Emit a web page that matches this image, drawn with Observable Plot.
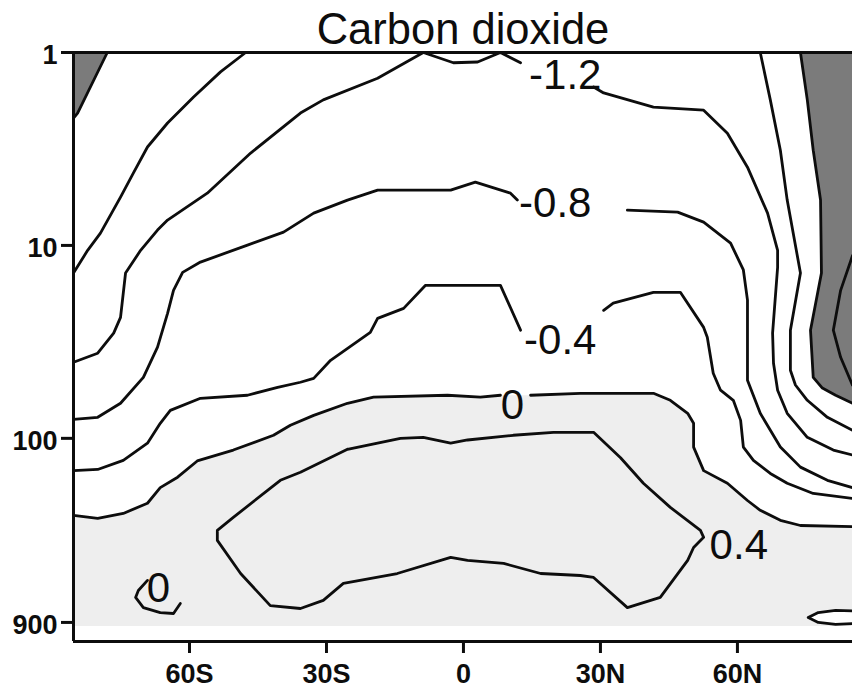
<!DOCTYPE html>
<html>
<head>
<meta charset="utf-8">
<script src="https://cdn.jsdelivr.net/npm/d3@7"></script>
<script src="https://cdn.jsdelivr.net/npm/@observablehq/plot@0.6"></script>
<style>
  html, body { margin: 0; padding: 0; background: #fff; }
  #chart { width: 852px; height: 692px; }
</style>
</head>
<body>
<div id="chart"></div>
<script>
// Zonal-mean response to carbon dioxide, latitude × pressure (hPa, log scale)
const title = "Carbon dioxide";
const latTicks = [-60, -30, 0, 30, 60];
const latTickLabels = ["60S", "30S", "0", "30N", "60N"];
const pressureTicks = [1, 10, 100, 900];
const pressureTickLabels = ["1", "10", "100", "900"];
const latExtent = [-85.4, 85.2];
const pressureExtent = [1, 1130];   // frame of the panel
const groundPressure = 940;         // lowest level of the field

// Contour polylines as [latitude, pressure] pairs; "a"/"b" are the pieces
// either side of an in-line label.
const cM24East = [[85.2,11.3],[82.6,17.1],[81.0,27.5],[82.6,38.0],[85.2,53.0]];
const cM20West = [[-78.0,1],[-84.5,2.06],[-85.4,2.19]];
const cM20East = [[73.8,1],[75.3,1.76],[76.6,3.21],[78.2,5.82],[78.4,13.9],[76.0,27.5],[76.6,48.3],[78.6,54.9],[81.5,59.8],[85.2,65.8]];
const cM16West = [[-47.7,1],[-53.2,1.26],[-59.1,1.70],[-64.8,2.32],[-69.2,3.09],[-72.3,4.22],[-75.1,5.62],[-79.5,8.64],[-82.3,10.6],[-85.4,13.9]];
const cM16East = [[65.0,1],[67.2,1.76],[69.4,3.21],[70.9,5.82],[73.8,13.9],[71.6,27.5],[71.6,44.4],[72.7,52.9],[75.3,63.5],[79.7,77.8],[85.2,90.8]];
const cM12a = [[-85.4,40.3],[-80.1,36.2],[-76.6,28.5],[-75.1,23.6],[-74.0,13.9],[-70.7,10.6],[-67.0,8.33],[-64.8,7.39],[-56.1,5.36],[-46.6,3.32],[-35.7,2.06],[-30.7,1.76],[-18.8,1.36],[-8.8,1.0],[-2.2,1.13],[3.1,1.12],[8.1,1.0],[12.5,1.13]];
const cM12b = [[28.5,1.51],[30.7,1.62],[41.6,1.92],[52.6,1.99],[57.8,2.62],[62.2,3.93],[66.6,6.80],[68.8,10.6],[68.8,13.0],[67.7,28.5],[67.9,40.8],[68.8,56.3],[70.9,74.2],[75.3,98.8],[81.0,115],[85.2,122]];
const cM08a = [[-85.4,79.7],[-80.1,77.8],[-75.1,65.8],[-70.1,48.3],[-67.0,33.7],[-64.8,22.5],[-63.5,17.1],[-61.5,13.8],[-57.6,12.2],[-47.3,9.97],[-39.4,8.53],[-32.8,6.80],[-25.4,5.82],[-18.8,5.17],[-2.8,5.17],[2.6,4.70],[10.3,5.36],[11.8,5.82]];
const cM08b = [[35.9,6.56],[46.9,6.72],[52.6,7.57],[58.5,9.73],[61.3,13.4],[62.2,19.2],[62.2,50.0],[65.0,74.2],[69.4,111],[73.8,141],[79.7,165],[85.2,180]];
const cM04a = [[-85.4,147],[-80.1,145],[-74.5,130],[-69.2,106],[-66.4,83.6],[-64.2,71.6],[-57.6,62.0],[-47.3,59.8],[-40.7,54.4],[-35.7,51.2],[-32.8,48.9],[-29.1,39.4],[-20.4,28.2],[-18.8,23.9],[-13.1,21.2],[-8.3,16.1],[8.1,16.1],[12.5,27.5]];
const cM04b = [[30.7,21.7],[32.8,19.9],[41.6,17.5],[47.5,17.5],[52.6,26.6],[53.4,29.9],[54.7,46.0],[56.3,56.3],[59.1,63.5],[60.7,80.7],[61.3,111],[63.5,130],[67.2,152],[70.9,171],[76.6,193],[85.2,205]];
const c00a = [[-85.4,251],[-80.1,260],[-74.5,245],[-69.2,217],[-66.4,180],[-62.6,159],[-58.3,131],[-50.4,115],[-41.6,96.4],[-37.9,85.6],[-32.8,76.0],[-25.4,65.8],[-19.7,61.2],[-3.5,59.8],[3.7,61.2],[8.1,59.8]];
const c00b = [[14.7,59.8],[25.6,58.4],[41.6,58.4],[45.3,63.5],[49.1,74.2],[50.4,83.6],[50.4,111],[52.6,147],[57.8,171],[62.2,210],[65.0,236],[69.4,266],[73.8,283],[85.2,287]];
const c00Small = [[-69.2,545],[-71.2,615],[-71.8,668],[-70.1,754],[-66.4,800],[-63.5,809],[-62.0,718]];
const c00Cell = [[85.2,785],[81.5,780],[77.7,800],[75.5,849],[77.7,900],[81.5,920],[85.2,912]];
const cP04Loop = [[-25.4,114],[-35.7,150],[-40.1,165],[-42.9,186],[-50.4,257],[-53.9,300],[-53.9,338],[-48.8,502],[-42.3,736],[-35.7,762],[-30.7,692],[-26.3,565],[-14.5,502],[-2.8,414],[0.9,429],[8.8,445],[16.9,502],[25.6,514],[28.5,526],[35.9,754],[43.1,668],[49.1,429],[50.4,368],[52.6,326],[51.9,300],[45.3,228],[39.4,171],[34.4,126],[28.5,93.1],[19.7,93.1],[10.9,96.4],[0.9,102],[-2.8,106],[-8.8,98.8],[-13.8,100],[-25.4,114]];

// In-line contour labels
const labelText = ["-1.2", "-0.8", "-0.4", "0", "0"];
const labelLat  = [22.3, 20.1, 21.2, 10.7, -66.8];
const labelP    = [1.31, 6.05, 31.0, 67.5, 600];
const boxedLabelText = ["0.4"];
const boxedLabelLat  = [60.3];
const boxedLabelP    = [358];

const segments = [
  {level: -2.4, pts: cM24East}, {level: -2.0, pts: cM20West}, {level: -2.0, pts: cM20East},
  {level: -1.6, pts: cM16West}, {level: -1.6, pts: cM16East},
  {level: -1.2, pts: cM12a}, {level: -1.2, pts: cM12b},
  {level: -0.8, pts: cM08a}, {level: -0.8, pts: cM08b},
  {level: -0.4, pts: cM04a}, {level: -0.4, pts: cM04b},
  {level: 0, pts: c00a}, {level: 0, pts: c00b}, {level: 0, pts: c00Small}, {level: 0, pts: c00Cell},
  {level: 0.4, pts: cP04Loop}
];
const lineRows = segments.flatMap((s, k) => s.pts.map(([lat, p]) => ({seg: k, level: s.level, lat, p})));
const toRows = pts => pts.map(([lat, p]) => ({lat, p}));

// Shaded areas: positive values (light) and values below -2.0 (dark)
const positiveArea = toRows([...c00a, ...c00b, [latExtent[1], groundPressure], [latExtent[0], groundPressure]]);
const lowWest = toRows([...cM20West, [latExtent[0], 1]]);
const lowEast = toRows([...cM20East, [latExtent[1], 1]]);
const negativeCell = toRows(c00Cell);

const labels = labelText.map((t, i) => ({t, lat: labelLat[i], p: labelP[i]}));
const boxedLabels = boxedLabelText.map((t, i) => ({t, lat: boxedLabelLat[i], p: boxedLabelP[i]}));
const yTickRows = pressureTicks.map((p, i) => ({p, t: pressureTickLabels[i]}));

const font = "'Liberation Sans', Arial, Helvetica, sans-serif";
const ink = "#0d0d0d";

const chart = Plot.plot({
  width: 852,
  height: 692,
  marginTop: 52,
  marginBottom: 51,
  marginLeft: 73,
  marginRight: 0,
  style: {fontFamily: font, fontSize: "27px", background: "#fff", overflow: "visible"},
  x: {domain: latExtent, label: null},
  y: {type: "log", domain: pressureExtent, reverse: true, label: null},
  marks: [
    Plot.line(positiveArea, {x: "lat", y: "p", fill: "#eeeeee", stroke: "none"}),
    Plot.line(lowWest, {x: "lat", y: "p", fill: "#7b7b7b", stroke: "none"}),
    Plot.line(lowEast, {x: "lat", y: "p", fill: "#7b7b7b", stroke: "none"}),
    Plot.line(negativeCell, {x: "lat", y: "p", fill: "#ffffff", stroke: "none"}),
    Plot.line(lineRows, {x: "lat", y: "p", z: "seg", stroke: ink, strokeWidth: 2.8, strokeLinejoin: "round", curve: "linear"}),
    Plot.ruleY([pressureExtent[0]], {stroke: ink, strokeWidth: 3}),
    Plot.ruleY([pressureExtent[1]], {stroke: ink, strokeWidth: 3}),
    Plot.ruleX([latExtent[0]], {stroke: ink, strokeWidth: 3}),
    // pressure axis: tick marks from the axis mark, labels from a text mark
    Plot.axisY({ticks: pressureTicks, tickFormat: () => "", tickSize: 12, strokeWidth: 3, stroke: ink}),
    Plot.text(yTickRows, {y: "p", text: "t", frameAnchor: "left", textAnchor: "end", dx: -16, dy: 3,
      fontSize: 27, fontWeight: "bold", fill: ink}),
    Plot.axisX({ticks: latTicks, tickFormat: d => latTickLabels[latTicks.indexOf(d)], tickSize: 12, tickPadding: 10,
      fontSize: 27, fontWeight: "bold", strokeWidth: 3, fill: ink, stroke: ink}),
    Plot.text(labels, {x: "lat", y: "p", text: "t", fontSize: 42, fill: ink, lineAnchor: "middle"}),
    Plot.text(boxedLabels, {x: "lat", y: "p", text: "t", fontSize: 42, fill: ink, lineAnchor: "middle", ariaLabel: "boxed-label"}),
    Plot.text([title], {frameAnchor: "top", lineAnchor: "bottom", dy: -9, fontSize: 43.5, fill: ink})
  ]
});

document.getElementById("chart").append(chart);

// White boxes behind labels that sit on shading, sized from the rendered text
const svgns = "http://www.w3.org/2000/svg";
chart.querySelectorAll('g[aria-label="boxed-label"] text').forEach(t => {
  const b = t.getBBox();
  const r = document.createElementNS(svgns, "rect");
  r.setAttribute("x", b.x - 2);
  r.setAttribute("y", b.y + 3);
  r.setAttribute("width", b.width + 14);
  r.setAttribute("height", b.height - 6);
  r.setAttribute("fill", "#fff");
  if (t.getAttribute("transform")) r.setAttribute("transform", t.getAttribute("transform"));
  t.parentNode.insertBefore(r, t);
});
</script>
</body>
</html>
